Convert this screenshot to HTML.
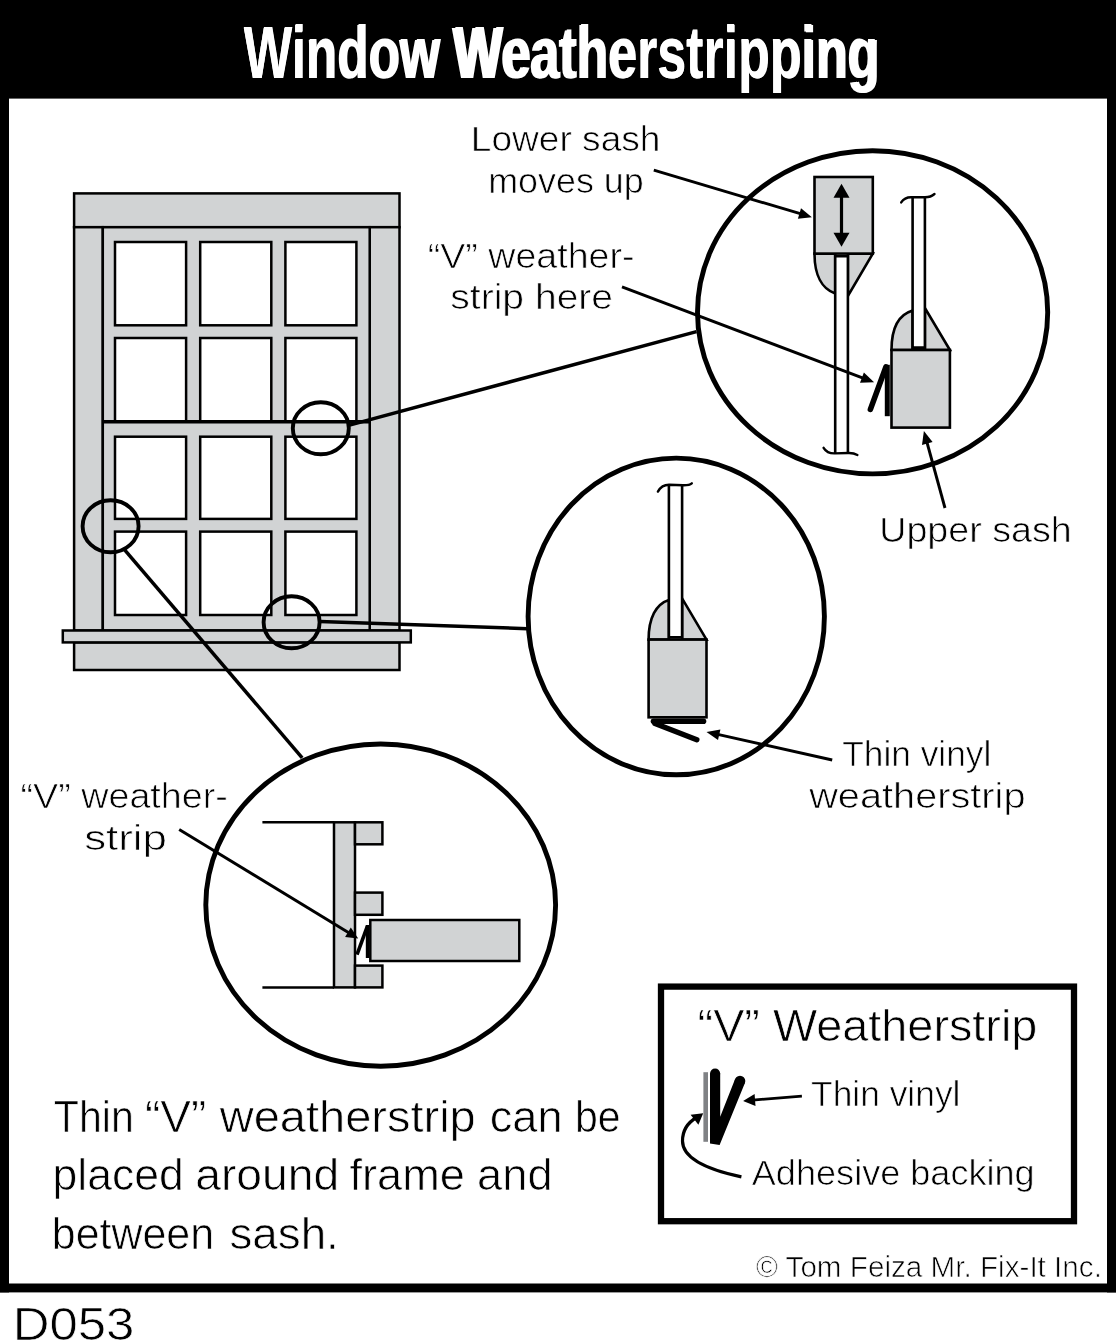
<!DOCTYPE html>
<html><head><meta charset="utf-8"><title>Window Weatherstripping</title>
<style>
html,body{margin:0;padding:0;background:#fff;}
body{width:1116px;height:1340px;overflow:hidden;font-family:"Liberation Sans",sans-serif;}
svg{display:block;will-change:transform;}
svg text{font-family:"Liberation Sans",sans-serif;}
</style></head><body>
<svg width="1116" height="1340" viewBox="0 0 1116 1340">
<rect x="0" y="0" width="1116" height="1340" fill="#fff"/>
<rect x="0" y="0" width="1116" height="98.6" fill="#000"/>
<rect x="0" y="0" width="9" height="1292.4" fill="#000"/>
<rect x="1107" y="0" width="9" height="1292.4" fill="#000"/>
<rect x="0" y="1283.5" width="1116" height="8.9" fill="#000"/>
<text x="243.7" y="77.6" font-size="73.5" font-style="normal" font-weight="bold" fill="#fff" text-anchor="start" textLength="634.5" lengthAdjust="spacingAndGlyphs">Window Weatherstripping</text>
<g stroke="#000" stroke-width="2.5" fill="#d1d3d4">
<rect x="74.1" y="642.4" width="325.4" height="27.6"/>
<rect x="74.1" y="193.4" width="325.4" height="33.8"/>
<rect x="74.1" y="227.2" width="28.7" height="403.3"/>
<rect x="369.7" y="227.2" width="29.8" height="403.3"/>
<rect x="102.8" y="227.2" width="266.9" height="403.3"/>
<rect x="62.8" y="630.5" width="348" height="11.9"/>
</g>
<g stroke="#000" stroke-width="2.5" fill="#fff">
<rect x="115" y="242" width="71.1" height="83.3"/>
<rect x="200.2" y="242" width="71.1" height="83.3"/>
<rect x="285.4" y="242" width="71.0" height="83.3"/>
<rect x="115" y="338" width="71.1" height="83.6"/>
<rect x="200.2" y="338" width="71.1" height="83.6"/>
<rect x="285.4" y="338" width="71.0" height="83.6"/>
<rect x="115" y="436.7" width="71.1" height="82.2"/>
<rect x="200.2" y="436.7" width="71.1" height="82.2"/>
<rect x="285.4" y="436.7" width="71.0" height="82.2"/>
<rect x="115" y="531.6" width="71.1" height="83.4"/>
<rect x="200.2" y="531.6" width="71.1" height="83.4"/>
<rect x="285.4" y="531.6" width="71.0" height="83.4"/>
</g>
<line x1="102.8" y1="421.7" x2="369.7" y2="421.7" stroke="#000" stroke-width="3.6"/>
<g fill="none" stroke="#000" stroke-width="3.9">
<ellipse cx="320.8" cy="428.3" rx="28" ry="26"/>
<ellipse cx="110.6" cy="526.2" rx="28" ry="26"/>
<ellipse cx="291.6" cy="622.2" rx="28" ry="26"/>
</g>
<g stroke="#000" stroke-width="3.5">
<line x1="348.6" y1="425.4" x2="696.5" y2="331.6"/>
<line x1="124" y1="549.2" x2="302.2" y2="757.8"/>
<line x1="319.8" y1="621.6" x2="527.5" y2="628.7"/>
</g>
<g fill="none" stroke="#000" stroke-width="4.9">
<ellipse cx="872.6" cy="312.3" rx="175.1" ry="161.6"/>
<ellipse cx="676.25" cy="616.45" rx="148.15" ry="158.35"/>
<ellipse cx="380.7" cy="905.1" rx="174.9" ry="161.1"/>
</g>
<g stroke="#000" stroke-width="2.6" fill="#d1d3d4" stroke-linejoin="miter">
<path d="M814.5,253.6 C814.5,275 822,289 835.2,293.4 L835.2,253.6 Z"/>
<path d="M872.8,253.6 L847.9,296 L847.9,253.6 Z"/>
<rect x="814.5" y="177" width="58.3" height="76.6"/>
<path d="M835.2,453.2 L835.2,256.2 L847.9,256.2 L847.9,453.2" fill="#fff"/>
<path d="M891.5,350 C891.5,328 899,314.5 912.6,310.5 L912.6,350 Z"/>
<path d="M949.9,350 L924.9,308 L924.9,350 Z"/>
<rect x="891.5" y="350" width="58.4" height="77.6"/>
<path d="M912.6,197.2 L912.6,347.6 L924.9,347.6 L924.9,197.2" fill="#fff"/>
</g>
<g stroke="#000" stroke-width="2.4" fill="none" stroke-linecap="round">
<path d="M901.2,202.4 C903.5,198.8 906.5,197.2 911,197.2 L925,197.2 C929,197.2 932,196.2 934.5,194"/>
<path d="M823.6,447.8 C826,451.8 829.5,453.6 835,453.4 L848,453 C852,452.8 855,453.6 857.4,455"/>
</g>
<line x1="841.5" y1="235.6" x2="841.5" y2="194.9" stroke="#000" stroke-width="3.2"/>
<polygon points="841.5,183.7 849.5,197.7 833.5,197.7" fill="#000"/>
<polygon points="841.5,246.8 849.5,232.8 833.5,232.8" fill="#000"/>
<g stroke="#000" stroke-linecap="round">
<line x1="887.3" y1="364.8" x2="887.3" y2="416.2" stroke-width="5" stroke-linecap="butt"/>
<line x1="886" y1="366.8" x2="870.4" y2="409.4" stroke-width="5.6"/>
</g>
<line x1="653.8" y1="170.2" x2="801.9" y2="214.2" stroke="#000" stroke-width="2.9"/>
<polygon points="811.9,217.2 797.9,218.8 801.0,208.2" fill="#000"/>
<line x1="622.0" y1="286.9" x2="864.4" y2="378.6" stroke="#000" stroke-width="2.9"/>
<polygon points="874.1,382.3 860.0,382.8 863.9,372.6" fill="#000"/>
<line x1="945.0" y1="508.0" x2="926.6" y2="441.0" stroke="#000" stroke-width="2.9"/>
<polygon points="923.9,431.0 932.6,442.1 922.0,445.0" fill="#000"/>
<g stroke="#000" stroke-width="2.6" fill="#d1d3d4">
<path d="M648.6,639.6 C648.6,618 656,604 668.9,600 L668.9,639.6 Z"/>
<path d="M706.5,639.6 L682.1,598.4 L682.1,639.6 Z"/>
<rect x="648.6" y="639.6" width="57.9" height="77.7"/>
<path d="M668.9,485.2 L668.9,637.4 L682.1,637.4 L682.1,485.2" fill="#fff"/>
</g>
<g stroke="#000" stroke-width="2.4" fill="none" stroke-linecap="round">
<path d="M657.9,491.6 C660.5,487 664,484.8 669,484.8 L683,485.2 C687,485.3 690,484.8 691.8,483.3"/>
</g>
<g stroke="#000" stroke-linecap="round">
<line x1="653.5" y1="721.2" x2="703.5" y2="721.2" stroke-width="5.6"/>
<line x1="655" y1="723.6" x2="696.8" y2="739.8" stroke-width="5.4"/>
</g>
<line x1="832.2" y1="760.0" x2="716.6" y2="734.2" stroke="#000" stroke-width="2.9"/>
<polygon points="706.5,731.9 720.4,729.4 718.0,740.1" fill="#000"/>
<g stroke="#000" stroke-width="2.5" fill="none">
<line x1="262.4" y1="822.3" x2="334" y2="822.3"/>
<line x1="262.4" y1="987.4" x2="334" y2="987.4"/>
</g>
<g stroke="#000" stroke-width="2.5" fill="#d1d3d4">
<rect x="334" y="822.3" width="21" height="165.1"/>
<rect x="355" y="822.3" width="27.4" height="22"/>
<rect x="355" y="892.6" width="27.4" height="22.2"/>
<rect x="355" y="965.6" width="27.4" height="21.8"/>
<rect x="370.3" y="920" width="149" height="41"/>
</g>
<g stroke="#000" stroke-width="3.6" fill="none" stroke-linejoin="miter">
<path d="M357,954.6 L367.4,926.2"/>
<path d="M367.6,925 L367.6,958"/>
</g>
<line x1="179.2" y1="829.5" x2="350.0" y2="933.5" stroke="#000" stroke-width="2.9"/>
<polygon points="358.2,938.5 345.1,937.0 350.8,927.6" fill="#000"/>
<rect x="661" y="986.6" width="413" height="234.6" fill="#fff" stroke="#000" stroke-width="6.3"/>
<rect x="703.4" y="1072.2" width="4.6" height="69.6" fill="#808285"/>
<path d="M710,1073.5 L720.2,1073.5 L720.2,1116.7 L735.2,1078.7 L744.8,1083.2 L719.6,1144.9 L710,1143.4 Z" fill="#000"/>
<circle cx="715.1" cy="1073.5" r="5.1" fill="#000"/>
<circle cx="740" cy="1081" r="5.3" fill="#000"/>
<line x1="801.9" y1="1096.2" x2="752.7" y2="1100.1" stroke="#000" stroke-width="2.8"/>
<polygon points="743.1,1100.9 754.6,1094.0 755.5,1105.9" fill="#000"/>
<path d="M741.4,1176.9 C700,1168 682.5,1156 682.5,1141 C682.5,1130 688,1122.5 696.5,1117.5" fill="none" stroke="#000" stroke-width="3.2"/>
<polygon points="703.2,1113.2 690.6,1114.8 698.4,1124.8" fill="#000"/>
<text x="243.70" y="77.6" font-size="72.5" font-style="normal" font-weight="bold" fill="#fff" textLength="195.13" lengthAdjust="spacingAndGlyphs">Window</text>
<text x="451.80" y="77.6" font-size="72.5" font-style="normal" font-weight="bold" fill="#fff" textLength="428.69" lengthAdjust="spacingAndGlyphs">Weatherstripping</text>
<text x="470.77" y="151.4" font-size="35.5" font-style="normal" font-weight="normal" fill="#000" textLength="189.70" lengthAdjust="spacingAndGlyphs" stroke="#fff" stroke-width="0.7" paint-order="fill stroke">Lower sash</text>
<text x="488.18" y="192.8" font-size="35.5" font-style="normal" font-weight="normal" fill="#000" textLength="155.55" lengthAdjust="spacingAndGlyphs" stroke="#fff" stroke-width="0.7" paint-order="fill stroke">moves up</text>
<text x="427.74" y="267.5" font-size="35.5" font-style="normal" font-weight="normal" fill="#000" textLength="206.85" lengthAdjust="spacingAndGlyphs" stroke="#fff" stroke-width="0.7" paint-order="fill stroke">“V” weather-</text>
<text x="450.30" y="309.0" font-size="35.5" font-style="normal" font-weight="normal" fill="#000" textLength="162.78" lengthAdjust="spacingAndGlyphs" stroke="#fff" stroke-width="0.7" paint-order="fill stroke">strip here</text>
<text x="879.22" y="541.7" font-size="35.5" font-style="normal" font-weight="normal" fill="#000" textLength="192.48" lengthAdjust="spacingAndGlyphs" stroke="#fff" stroke-width="0.7" paint-order="fill stroke">Upper sash</text>
<text x="842.21" y="766.0" font-size="35.5" font-style="normal" font-weight="normal" fill="#000" textLength="149.04" lengthAdjust="spacingAndGlyphs" stroke="#fff" stroke-width="0.7" paint-order="fill stroke">Thin vinyl</text>
<text x="809.20" y="808.2" font-size="35.5" font-style="normal" font-weight="normal" fill="#000" textLength="216.34" lengthAdjust="spacingAndGlyphs" stroke="#fff" stroke-width="0.7" paint-order="fill stroke">weatherstrip</text>
<text x="20.44" y="808.2" font-size="35.5" font-style="normal" font-weight="normal" fill="#000" textLength="207.46" lengthAdjust="spacingAndGlyphs" stroke="#fff" stroke-width="0.7" paint-order="fill stroke">“V” weather-</text>
<text x="84.16" y="849.5" font-size="35.5" font-style="normal" font-weight="normal" fill="#000" textLength="82.87" lengthAdjust="spacingAndGlyphs" stroke="#fff" stroke-width="0.7" paint-order="fill stroke">strip</text>
<text x="53.87" y="1132.2" font-size="44" font-style="normal" font-weight="normal" fill="#000" textLength="79.96" lengthAdjust="spacingAndGlyphs" stroke="#fff" stroke-width="0.7" paint-order="fill stroke">Thin</text>
<text x="144.91" y="1132.2" font-size="44" font-style="normal" font-weight="normal" fill="#000" textLength="61.32" lengthAdjust="spacingAndGlyphs" stroke="#fff" stroke-width="0.7" paint-order="fill stroke">“V”</text>
<text x="219.70" y="1132.2" font-size="44" font-style="normal" font-weight="normal" fill="#000" textLength="256.09" lengthAdjust="spacingAndGlyphs" stroke="#fff" stroke-width="0.7" paint-order="fill stroke">weatherstrip</text>
<text x="489.75" y="1132.2" font-size="44" font-style="normal" font-weight="normal" fill="#000" textLength="72.89" lengthAdjust="spacingAndGlyphs" stroke="#fff" stroke-width="0.7" paint-order="fill stroke">can</text>
<text x="575.00" y="1132.2" font-size="44" font-style="normal" font-weight="normal" fill="#000" textLength="45.62" lengthAdjust="spacingAndGlyphs" stroke="#fff" stroke-width="0.7" paint-order="fill stroke">be</text>
<text x="52.57" y="1189.7" font-size="44" font-style="normal" font-weight="normal" fill="#000" textLength="131.14" lengthAdjust="spacingAndGlyphs" stroke="#fff" stroke-width="0.7" paint-order="fill stroke">placed</text>
<text x="195.20" y="1189.7" font-size="44" font-style="normal" font-weight="normal" fill="#000" textLength="143.97" lengthAdjust="spacingAndGlyphs" stroke="#fff" stroke-width="0.7" paint-order="fill stroke">around</text>
<text x="349.57" y="1189.7" font-size="44" font-style="normal" font-weight="normal" fill="#000" textLength="115.35" lengthAdjust="spacingAndGlyphs" stroke="#fff" stroke-width="0.7" paint-order="fill stroke">frame</text>
<text x="477.14" y="1189.7" font-size="44" font-style="normal" font-weight="normal" fill="#000" textLength="75.55" lengthAdjust="spacingAndGlyphs" stroke="#fff" stroke-width="0.7" paint-order="fill stroke">and</text>
<text x="51.87" y="1248.5" font-size="44" font-style="normal" font-weight="normal" fill="#000" textLength="162.23" lengthAdjust="spacingAndGlyphs" stroke="#fff" stroke-width="0.7" paint-order="fill stroke">between</text>
<text x="229.46" y="1248.5" font-size="44" font-style="normal" font-weight="normal" fill="#000" textLength="109.38" lengthAdjust="spacingAndGlyphs" stroke="#fff" stroke-width="0.7" paint-order="fill stroke">sash.</text>
<text x="12.67" y="1339.5" font-size="47" font-style="normal" font-weight="normal" fill="#000" textLength="121.58" lengthAdjust="spacingAndGlyphs" stroke="#fff" stroke-width="0.7" paint-order="fill stroke">D053</text>
<text x="697.57" y="1041.0" font-size="44" font-style="normal" font-weight="normal" fill="#000" textLength="339.82" lengthAdjust="spacingAndGlyphs" stroke="#fff" stroke-width="0.7" paint-order="fill stroke">“V” Weatherstrip</text>
<text x="811.10" y="1106.4" font-size="35.5" font-style="normal" font-weight="normal" fill="#000" textLength="149.34" lengthAdjust="spacingAndGlyphs" stroke="#fff" stroke-width="0.7" paint-order="fill stroke">Thin vinyl</text>
<text x="751.80" y="1185.2" font-size="35.5" font-style="normal" font-weight="normal" fill="#000" textLength="282.90" lengthAdjust="spacingAndGlyphs" stroke="#fff" stroke-width="0.7" paint-order="fill stroke">Adhesive backing</text>
<text x="756.00" y="1277.3" font-size="30" font-style="normal" font-weight="normal" fill="#000" textLength="345.90" lengthAdjust="spacingAndGlyphs" stroke="#fff" stroke-width="0.7" paint-order="fill stroke">© Tom Feiza Mr. Fix-It Inc.</text>
</svg>
</body></html>
